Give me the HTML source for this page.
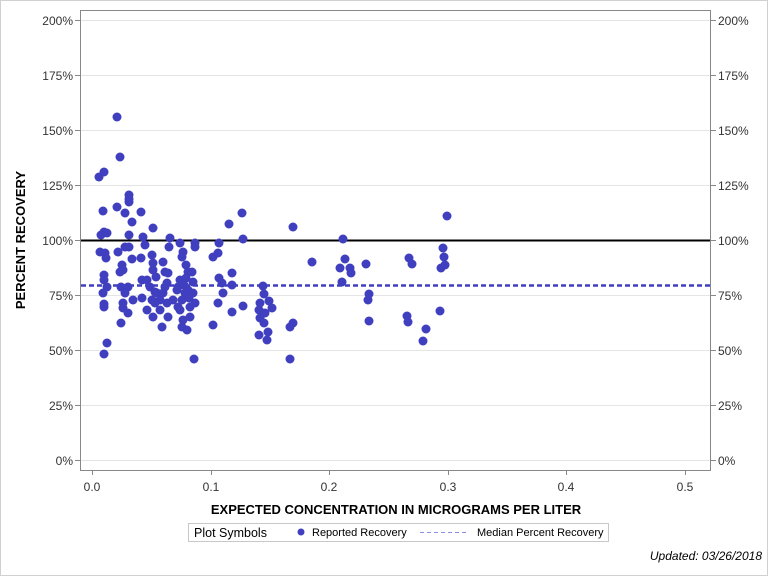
<!DOCTYPE html>
<html><head><meta charset="utf-8"><style>
html,body{margin:0;padding:0;background:#fff}
svg{display:block;font-family:"Liberation Sans",Arial,sans-serif}
</style></head><body>
<svg width="768" height="576" viewBox="0 0 768 576" xmlns="http://www.w3.org/2000/svg">
<rect x="0.5" y="0.5" width="767" height="575" fill="#fff" stroke="#d0d0d0"/>
<g stroke="#e4e4e4" stroke-width="1">
<line x1="80" x2="711" y1="460.5" y2="460.5"/><line x1="80" x2="711" y1="405.5" y2="405.5"/>
<line x1="80" x2="711" y1="350.5" y2="350.5"/><line x1="80" x2="711" y1="295.5" y2="295.5"/>
<line x1="80" x2="711" y1="240.5" y2="240.5"/><line x1="80" x2="711" y1="185.5" y2="185.5"/>
<line x1="80" x2="711" y1="130.5" y2="130.5"/><line x1="80" x2="711" y1="75.5" y2="75.5"/>
<line x1="80" x2="711" y1="20.5" y2="20.5"/>
</g>
<rect x="80.5" y="10.5" width="630" height="460" fill="none" stroke="#888"/>
<g stroke="#888">
<line x1="75" x2="80" y1="460.5" y2="460.5"/><line x1="75" x2="80" y1="405.5" y2="405.5"/><line x1="75" x2="80" y1="350.5" y2="350.5"/><line x1="75" x2="80" y1="295.5" y2="295.5"/><line x1="75" x2="80" y1="240.5" y2="240.5"/><line x1="75" x2="80" y1="185.5" y2="185.5"/><line x1="75" x2="80" y1="130.5" y2="130.5"/><line x1="75" x2="80" y1="75.5" y2="75.5"/><line x1="75" x2="80" y1="20.5" y2="20.5"/>
<line x1="711" x2="716" y1="460.5" y2="460.5"/><line x1="711" x2="716" y1="405.5" y2="405.5"/><line x1="711" x2="716" y1="350.5" y2="350.5"/><line x1="711" x2="716" y1="295.5" y2="295.5"/><line x1="711" x2="716" y1="240.5" y2="240.5"/><line x1="711" x2="716" y1="185.5" y2="185.5"/><line x1="711" x2="716" y1="130.5" y2="130.5"/><line x1="711" x2="716" y1="75.5" y2="75.5"/><line x1="711" x2="716" y1="20.5" y2="20.5"/>
<line x1="92.5" x2="92.5" y1="470" y2="475"/><line x1="211.5" x2="211.5" y1="470" y2="475"/><line x1="329.5" x2="329.5" y1="470" y2="475"/><line x1="448.5" x2="448.5" y1="470" y2="475"/><line x1="566.5" x2="566.5" y1="470" y2="475"/><line x1="685.5" x2="685.5" y1="470" y2="475"/>
</g>
<g font-size="12" fill="#333" text-anchor="end">
<text x="73" y="465">0%</text><text x="73" y="410">25%</text><text x="73" y="355">50%</text><text x="73" y="300">75%</text><text x="73" y="245">100%</text><text x="73" y="190">125%</text><text x="73" y="135">150%</text><text x="73" y="80">175%</text><text x="73" y="25">200%</text>
</g>
<g font-size="12" fill="#333" text-anchor="start">
<text x="718" y="465">0%</text><text x="718" y="410">25%</text><text x="718" y="355">50%</text><text x="718" y="300">75%</text><text x="718" y="245">100%</text><text x="718" y="190">125%</text><text x="718" y="135">150%</text><text x="718" y="80">175%</text><text x="718" y="25">200%</text>
</g>
<g font-size="12" fill="#333" text-anchor="middle">
<text x="92" y="491">0.0</text><text x="211" y="491">0.1</text><text x="329" y="491">0.2</text><text x="448" y="491">0.3</text><text x="566" y="491">0.4</text><text x="685" y="491">0.5</text>
</g>
<text x="396" y="514" font-size="13" font-weight="bold" text-anchor="middle" fill="#000">EXPECTED CONCENTRATION IN MICROGRAMS PER LITER</text>
<text transform="translate(25,240) rotate(-90)" font-size="13" font-weight="bold" text-anchor="middle" fill="#000">PERCENT RECOVERY</text>
<line x1="81" x2="710" y1="240.5" y2="240.5" stroke="#000" stroke-width="2"/>
<line x1="81" x2="710" y1="285.5" y2="285.5" stroke="#3f3fbf" stroke-width="2.5" stroke-dasharray="5,3"/>
<g fill="#3f3fbf">
<circle cx="117" cy="117" r="4.5"/><circle cx="120" cy="157" r="4.5"/><circle cx="99" cy="177" r="4.5"/><circle cx="104" cy="172" r="4.5"/><circle cx="103" cy="211" r="4.5"/>
<circle cx="129" cy="195" r="4.5"/><circle cx="129" cy="199" r="4.5"/><circle cx="129" cy="202" r="4.5"/><circle cx="117" cy="207" r="4.5"/><circle cx="125" cy="213" r="4.5"/><circle cx="141" cy="212" r="4.5"/><circle cx="132" cy="222" r="4.5"/><circle cx="153" cy="228" r="4.5"/><circle cx="129" cy="235" r="4.5"/><circle cx="104" cy="232" r="4.5"/><circle cx="101" cy="235" r="4.5"/><circle cx="107" cy="233" r="4.5"/>
<circle cx="100" cy="252" r="4.5"/><circle cx="105" cy="253" r="4.5"/><circle cx="106" cy="258" r="4.5"/><circle cx="118" cy="252" r="4.5"/><circle cx="125" cy="247" r="4.5"/><circle cx="129" cy="247" r="4.5"/><circle cx="143" cy="237" r="4.5"/><circle cx="145" cy="245" r="4.5"/><circle cx="141" cy="258" r="4.5"/><circle cx="132" cy="259" r="4.5"/><circle cx="122" cy="265" r="4.5"/><circle cx="123" cy="270" r="4.5"/><circle cx="120" cy="272" r="4.5"/>
<circle cx="104" cy="275" r="4.5"/><circle cx="104" cy="280" r="4.5"/><circle cx="107" cy="287" r="4.5"/><circle cx="103" cy="293" r="4.5"/><circle cx="104" cy="304" r="4.5"/><circle cx="104" cy="307" r="4.5"/><circle cx="121" cy="287" r="4.5"/><circle cx="128" cy="287" r="4.5"/><circle cx="125" cy="293" r="4.5"/><circle cx="123" cy="303" r="4.5"/><circle cx="123" cy="308" r="4.5"/><circle cx="128" cy="313" r="4.5"/><circle cx="133" cy="300" r="4.5"/><circle cx="121" cy="323" r="4.5"/><circle cx="107" cy="343" r="4.5"/><circle cx="104" cy="354" r="4.5"/>
<circle cx="142" cy="298" r="4.5"/><circle cx="142" cy="280" r="4.5"/><circle cx="147" cy="280" r="4.5"/><circle cx="152" cy="255" r="4.5"/><circle cx="153" cy="263" r="4.5"/><circle cx="153" cy="270" r="4.5"/><circle cx="156" cy="277" r="4.5"/><circle cx="150" cy="287" r="4.5"/><circle cx="155" cy="292" r="4.5"/><circle cx="163" cy="262" r="4.5"/><circle cx="165" cy="272" r="4.5"/><circle cx="168" cy="273" r="4.5"/><circle cx="167" cy="283" r="4.5"/><circle cx="170" cy="238" r="4.5"/><circle cx="169" cy="247" r="4.5"/><circle cx="180" cy="243" r="4.5"/><circle cx="183" cy="252" r="4.5"/><circle cx="182" cy="257" r="4.5"/><circle cx="186" cy="265" r="4.5"/><circle cx="188" cy="272" r="4.5"/><circle cx="192" cy="272" r="4.5"/><circle cx="193" cy="282" r="4.5"/><circle cx="195" cy="243" r="4.5"/><circle cx="195" cy="247" r="4.5"/>
<circle cx="180" cy="280" r="4.5"/><circle cx="178" cy="287" r="4.5"/><circle cx="185" cy="293" r="4.5"/><circle cx="193" cy="293" r="4.5"/><circle cx="195" cy="303" r="4.5"/><circle cx="190" cy="307" r="4.5"/><circle cx="180" cy="310" r="4.5"/><circle cx="190" cy="317" r="4.5"/><circle cx="183" cy="320" r="4.5"/><circle cx="187" cy="330" r="4.5"/><circle cx="182" cy="327" r="4.5"/><circle cx="194" cy="359" r="4.5"/><circle cx="184" cy="285" r="4.5"/><circle cx="188" cy="290" r="4.5"/><circle cx="182" cy="300" r="4.5"/><circle cx="189" cy="298" r="4.5"/><circle cx="186" cy="278" r="4.5"/>
<circle cx="160" cy="300" r="4.5"/><circle cx="155" cy="303" r="4.5"/><circle cx="160" cy="310" r="4.5"/><circle cx="167" cy="303" r="4.5"/><circle cx="168" cy="317" r="4.5"/><circle cx="162" cy="327" r="4.5"/><circle cx="153" cy="317" r="4.5"/><circle cx="147" cy="310" r="4.5"/><circle cx="152" cy="300" r="4.5"/><circle cx="157" cy="293" r="4.5"/><circle cx="163" cy="293" r="4.5"/><circle cx="165" cy="287" r="4.5"/><circle cx="173" cy="300" r="4.5"/><circle cx="177" cy="290" r="4.5"/><circle cx="178" cy="307" r="4.5"/>
<circle cx="213" cy="325" r="4.5"/><circle cx="213" cy="257" r="4.5"/><circle cx="218" cy="253" r="4.5"/><circle cx="219" cy="243" r="4.5"/><circle cx="229" cy="224" r="4.5"/><circle cx="242" cy="213" r="4.5"/><circle cx="243" cy="239" r="4.5"/><circle cx="232" cy="273" r="4.5"/><circle cx="232" cy="285" r="4.5"/><circle cx="219" cy="278" r="4.5"/><circle cx="222" cy="283" r="4.5"/><circle cx="223" cy="293" r="4.5"/><circle cx="218" cy="303" r="4.5"/><circle cx="232" cy="312" r="4.5"/><circle cx="243" cy="306" r="4.5"/>
<circle cx="263" cy="286" r="4.5"/><circle cx="264" cy="294" r="4.5"/><circle cx="260" cy="303" r="4.5"/><circle cx="269" cy="301" r="4.5"/><circle cx="272" cy="308" r="4.5"/><circle cx="259" cy="310" r="4.5"/><circle cx="265" cy="313" r="4.5"/><circle cx="260" cy="318" r="4.5"/><circle cx="264" cy="323" r="4.5"/><circle cx="268" cy="332" r="4.5"/><circle cx="259" cy="335" r="4.5"/><circle cx="267" cy="340" r="4.5"/><circle cx="290" cy="359" r="4.5"/><circle cx="290" cy="327" r="4.5"/><circle cx="293" cy="323" r="4.5"/><circle cx="293" cy="227" r="4.5"/><circle cx="312" cy="262" r="4.5"/>
<circle cx="340" cy="268" r="4.5"/><circle cx="343" cy="239" r="4.5"/><circle cx="345" cy="259" r="4.5"/><circle cx="350" cy="268" r="4.5"/><circle cx="351" cy="273" r="4.5"/><circle cx="342" cy="282" r="4.5"/><circle cx="366" cy="264" r="4.5"/><circle cx="369" cy="294" r="4.5"/><circle cx="368" cy="300" r="4.5"/><circle cx="369" cy="321" r="4.5"/><circle cx="409" cy="258" r="4.5"/><circle cx="412" cy="264" r="4.5"/><circle cx="407" cy="316" r="4.5"/><circle cx="408" cy="322" r="4.5"/><circle cx="426" cy="329" r="4.5"/><circle cx="423" cy="341" r="4.5"/><circle cx="443" cy="248" r="4.5"/><circle cx="444" cy="257" r="4.5"/><circle cx="445" cy="265" r="4.5"/><circle cx="441" cy="268" r="4.5"/><circle cx="440" cy="311" r="4.5"/><circle cx="447" cy="216" r="4.5"/>
</g>
<rect x="188.5" y="523.5" width="420" height="18" fill="#fff" stroke="#c8c8c8"/>
<text x="194" y="537" font-size="12.5" fill="#000">Plot Symbols</text>
<circle cx="301" cy="532" r="3.5" fill="#3f3fbf"/>
<text x="312" y="536" font-size="11" fill="#000">Reported Recovery</text>
<line x1="420" x2="467" y1="532.5" y2="532.5" stroke="#8c8ce6" stroke-dasharray="4,3"/>
<text x="477" y="536" font-size="11" fill="#000">Median Percent Recovery</text>
<text x="762" y="560" font-size="12" font-style="italic" text-anchor="end" fill="#000">Updated: 03/26/2018</text>
</svg>
</body></html>
